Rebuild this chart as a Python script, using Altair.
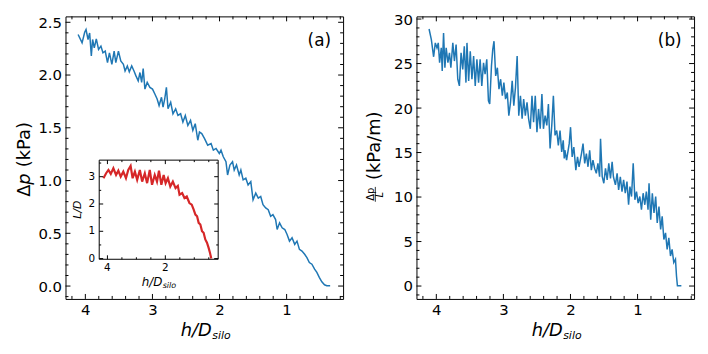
import altair as alt
import pandas as pd

# ---------------- data ----------------
# panel (a): pressure drop vs h/D_silo
a_h = [4.108, 4.049, 4.010, 3.990, 3.960, 3.936, 3.911, 3.892, 3.867, 3.837,
       3.803, 3.768, 3.738, 3.704, 3.670, 3.641, 3.605, 3.571, 3.546, 3.507,
       3.472, 3.433, 3.408, 3.374, 3.345, 3.309, 3.275, 3.246, 3.212, 3.186,
       3.161, 3.138, 3.112, 3.078, 3.038, 2.999, 2.964, 2.930, 2.901, 2.865,
       2.842, 2.817, 2.792, 2.768, 2.728, 2.694, 2.654, 2.620, 2.580, 2.546,
       2.510, 2.472, 2.432, 2.398, 2.362, 2.324, 2.299, 2.265, 2.225, 2.200,
       2.176, 2.126, 2.092, 2.052, 2.003, 1.978, 1.944, 1.904, 1.880, 1.845,
       1.806, 1.781, 1.747, 1.707, 1.682, 1.648, 1.608, 1.574, 1.534, 1.500,
       1.460, 1.422, 1.386, 1.352, 1.312, 1.274, 1.238, 1.204, 1.164, 1.141,
       1.105, 1.067, 1.027, 0.993, 0.957, 0.919, 0.879, 0.845, 0.809, 0.771,
       0.731, 0.697, 0.661, 0.623, 0.583, 0.549, 0.513, 0.475, 0.435, 0.401,
       0.351]
a_dp = [2.384, 2.305, 2.406, 2.431, 2.337, 2.399, 2.180, 2.337, 2.258, 2.343,
        2.243, 2.274, 2.211, 2.227, 2.117, 2.211, 2.102, 2.227, 2.117, 2.227,
        2.133, 2.102, 2.039, 2.086, 2.030, 2.086, 2.039, 1.992, 1.945, 2.024,
        1.930, 2.061, 1.867, 1.930, 1.883, 1.867, 1.820, 1.773, 1.711, 1.789,
        1.695, 1.773, 1.883, 1.680, 1.742, 1.633, 1.680, 1.617, 1.633, 1.554,
        1.617, 1.523, 1.570, 1.476, 1.539, 1.382, 1.460, 1.445, 1.400, 1.366,
        1.335, 1.351, 1.288, 1.304, 1.257, 1.288, 1.225, 1.178, 1.053, 1.147,
        1.178, 1.100, 1.147, 1.053, 1.100, 1.006, 1.022, 0.959, 0.990, 0.818,
        0.881, 0.834, 0.849, 0.771, 0.740, 0.724, 0.661, 0.677, 0.630, 0.536,
        0.599, 0.552, 0.536, 0.489, 0.426, 0.458, 0.395, 0.426, 0.348, 0.332,
        0.301, 0.270, 0.223, 0.207, 0.160, 0.129, 0.082, 0.040, 0.012, 0.003,
        0.003]

# panel (b): pressure gradient vs h/D_silo
b_h = [4.108, 4.074, 4.040, 4.015, 3.990, 3.971, 3.951, 3.926, 3.912, 3.892,
       3.872, 3.853, 3.827, 3.804, 3.783, 3.754, 3.730, 3.705, 3.680, 3.656,
       3.631, 3.606, 3.583, 3.558, 3.543, 3.518, 3.494, 3.469, 3.444, 3.420,
       3.395, 3.370, 3.347, 3.322, 3.296, 3.273, 3.248, 3.223, 3.204, 3.178,
       3.159, 3.140, 3.115, 3.090, 3.066, 3.041, 3.016, 2.993, 2.968, 2.942,
       2.919, 2.894, 2.869, 2.845, 2.820, 2.795, 2.771, 2.746, 2.721, 2.698,
       2.673, 2.648, 2.624, 2.599, 2.574, 2.550, 2.525, 2.500, 2.476, 2.451,
       2.426, 2.403, 2.378, 2.353, 2.329, 2.304, 2.279, 2.255, 2.230, 2.205,
       2.181, 2.156, 2.131, 2.108, 2.093, 2.083, 2.058, 2.019, 1.999, 1.975,
       1.950, 1.920, 1.895, 1.872, 1.836, 1.813, 1.788, 1.763, 1.739, 1.714,
       1.689, 1.665, 1.640, 1.615, 1.591, 1.566, 1.552, 1.527, 1.503, 1.478,
       1.453, 1.429, 1.404, 1.379, 1.360, 1.330, 1.305, 1.282, 1.257, 1.232,
       1.208, 1.183, 1.158, 1.134, 1.114, 1.090, 1.065, 1.040, 1.016, 0.991,
       0.966, 0.942, 0.917, 0.892, 0.869, 0.844, 0.829, 0.804, 0.780, 0.755,
       0.730, 0.707, 0.681, 0.656, 0.633, 0.608, 0.583, 0.559, 0.534, 0.509,
       0.485, 0.460, 0.435, 0.420, 0.406, 0.347]
b_grad = [28.88, 27.69, 25.76, 27.32, 26.76, 27.32, 25.09, 26.76, 24.16, 28.43,
          24.53, 26.76, 25.09, 26.20, 24.53, 27.32, 25.28, 27.14, 23.24, 22.49,
          26.20, 24.35, 26.95, 22.86, 27.32, 23.05, 26.39, 23.24, 25.84, 22.49,
          25.47, 22.86, 25.47, 22.49, 25.09, 23.80, 25.47, 20.82, 20.46, 24.72,
          26.58, 27.51, 23.61, 24.53, 22.13, 23.24, 21.38, 22.86, 21.01, 21.75,
          19.15, 20.63, 23.05, 20.27, 22.31, 25.84, 19.15, 21.38, 18.79, 21.01,
          19.15, 20.63, 18.79, 17.67, 21.38, 18.41, 21.38, 17.29, 19.90, 17.67,
          21.57, 17.67, 19.15, 18.04, 20.46, 15.45, 18.04, 21.38, 16.93, 17.48,
          15.81, 17.48, 15.07, 16.37, 14.33, 15.26, 14.14, 16.00, 17.85, 14.51,
          15.62, 13.03, 14.51, 13.40, 14.89, 16.00, 13.78, 14.89, 13.40, 15.26,
          13.03, 14.14, 13.22, 12.66, 13.78, 12.28, 16.56, 12.28, 11.55, 13.22,
          11.92, 13.78, 12.10, 13.95, 12.28, 11.36, 12.66, 10.80, 12.28, 10.61,
          11.92, 10.43, 11.73, 9.13, 11.17, 10.06, 13.78, 9.69, 10.61, 9.32,
          10.06, 8.57, 10.43, 9.13, 10.61, 8.57, 11.55, 7.46, 10.43, 8.21,
          10.06, 7.09, 8.94, 6.35, 7.83, 5.23, 5.98, 4.12, 5.42, 3.37,
          4.12, 2.64, 3.01, 1.15, 0.03, 0.03]

# inset: L/D vs h/D_silo
i_h = [4.137, 4.045, 3.966, 3.884, 3.795, 3.702, 3.623, 3.541, 3.452, 3.360,
       3.281, 3.199, 3.130, 3.051, 2.973, 2.880, 2.801, 2.709, 2.630, 2.538,
       2.459, 2.366, 2.288, 2.219, 2.137, 2.058, 1.990, 1.911, 1.829, 1.740,
       1.647, 1.568, 1.510, 1.418, 1.339, 1.260, 1.168, 1.089, 1.021, 0.962,
       0.904, 0.849, 0.791, 0.733, 0.678, 0.620, 0.562, 0.507, 0.459, 0.414]
i_ld = [2.945, 3.127, 3.247, 3.102, 3.309, 3.065, 3.222, 3.004, 3.185, 2.945,
        3.247, 3.393, 2.945, 3.185, 2.884, 3.247, 2.822, 3.127, 2.764, 3.247,
        2.702, 3.065, 2.822, 3.222, 2.702, 3.065, 2.764, 2.945, 2.640, 2.822,
        2.582, 2.665, 2.338, 2.400, 2.218, 2.276, 2.036, 1.975, 1.793, 1.611,
        1.549, 1.309, 1.247, 1.004, 0.945, 0.702, 0.582, 0.400, 0.218, 0.000]

# axis domains and tick values
A_XDOM = [4.296, 0.158]
A_YDOM = [-0.122, 2.556]
B_YDOM = [-1.448, 30.30]
I_XDOM = [4.284, 0.175]
I_YDOM = [-0.025, 3.607]

X_MAJOR = [4, 3, 2, 1]
X_MINOR = [4.2, 3.8, 3.6, 3.4, 3.2, 2.8, 2.6, 2.4, 2.2, 1.8, 1.6, 1.4, 1.2,
           0.8, 0.6, 0.4, 0.2]
A_Y_MAJOR = [0.0, 0.5, 1.0, 1.5, 2.0, 2.5]
A_Y_MINOR = [-0.1, 0.1, 0.2, 0.3, 0.4, 0.6, 0.7, 0.8, 0.9, 1.1, 1.2, 1.3, 1.4,
             1.6, 1.7, 1.8, 1.9, 2.1, 2.2, 2.3, 2.4]
B_Y_MAJOR = [0, 5, 10, 15, 20, 25, 30]
B_Y_MINOR = [-1, 1, 2, 3, 4, 6, 7, 8, 9, 11, 12, 13, 14, 16, 17, 18, 19,
             21, 22, 23, 24, 26, 27, 28, 29]
I_X_MAJOR = [4, 2]
I_X_MINOR = [3.5, 3, 2.5, 1.5, 1, 0.5]
I_Y_MAJOR = [0, 1, 2, 3]
I_Y_MINOR = [0.5, 1.5, 2.5, 3.5]

# ---------------- layout constants ----------------
W, H = 280, 285
I_XRANGE = [34, 154]
I_YRANGE = [245, 145]
FONT = "DejaVu Sans"
BLUE = "#1f77b4"
RED = "#d62728"


def ticks_x(values, scale, axis, length, y_top, y_bot):
    src = alt.Chart(pd.DataFrame({"v": values}))
    x = alt.X("v:Q", scale=scale, axis=axis)
    bot = src.mark_rule(color="black", strokeWidth=1).encode(
        x=x, y=alt.value(y_bot), y2=alt.value(y_bot - length))
    top = src.mark_rule(color="black", strokeWidth=1).encode(
        x=x, y=alt.value(y_top), y2=alt.value(y_top + length))
    return [bot, top]


def ticks_y(values, scale, axis, length, x_left, x_right):
    src = alt.Chart(pd.DataFrame({"v": values}))
    y = alt.Y("v:Q", scale=scale, axis=axis)
    left = src.mark_rule(color="black", strokeWidth=1).encode(
        y=y, x=alt.value(x_left), x2=alt.value(x_left + length))
    right = src.mark_rule(color="black", strokeWidth=1).encode(
        y=y, x=alt.value(x_right), x2=alt.value(x_right - length))
    return [left, right]


def label(text, x, y, size, italic=False, angle=0, align="center",
          baseline="middle"):
    return alt.Chart(pd.DataFrame({"t": [text]})).mark_text(
        font=FONT, fontSize=size, fontStyle="italic" if italic else "normal",
        angle=angle, align=align, baseline=baseline, color="black"
    ).encode(x=alt.value(x), y=alt.value(y), text="t:N")


xs = alt.Scale(domain=A_XDOM, nice=False, zero=False)
x_axis = alt.Axis(values=X_MAJOR, format="d", title=None)

# ---------------- panel (a) ----------------
ys_a = alt.Scale(domain=A_YDOM, nice=False, zero=False)
ya_axis = alt.Axis(values=A_Y_MAJOR, format=".1f", title=None)
df_a = pd.DataFrame({"h": a_h, "v": a_dp, "i": range(len(a_h))})
line_a = alt.Chart(df_a).mark_line(color=BLUE, strokeWidth=1.5).encode(
    x=alt.X("h:Q", scale=xs, axis=x_axis),
    y=alt.Y("v:Q", scale=ys_a, axis=ya_axis),
    order="i:Q",
)
main_a = alt.layer(
    line_a,
    *ticks_x(X_MAJOR, xs, x_axis, 5, 0, H),
    *ticks_x(X_MINOR, xs, x_axis, 3, 0, H),
    *ticks_y(A_Y_MAJOR, ys_a, ya_axis, 5, 0, W),
    *ticks_y(A_Y_MINOR, ys_a, ya_axis, 3, 0, W),
    label("(a)", 256, 25, 17),
    label("\u0394", -41, 175.8, 18, angle=270),
    label("p", -41, 164, 18, italic=True, angle=270),
    label("(kPa)", -41, 129.4, 18, angle=270),
    label("h/D", 147.5, 322.3, 18, italic=True, align="right", baseline="alphabetic"),
    label("silo", 148, 325, 11, italic=True, align="left", baseline="alphabetic"),
)

# inset
xs_i = alt.Scale(domain=I_XDOM, range=I_XRANGE, nice=False, zero=False)
ys_i = alt.Scale(domain=I_YDOM, range=I_YRANGE, nice=False, zero=False)
frame_i = alt.Chart(pd.DataFrame({"x0": [I_XDOM[0]], "x1": [I_XDOM[1]],
                                  "y0": [I_YDOM[0]], "y1": [I_YDOM[1]]})).mark_rect(
    fill="white", stroke="black", strokeWidth=1).encode(
    x=alt.X("x0:Q", scale=xs_i, axis=None), x2="x1:Q",
    y=alt.Y("y0:Q", scale=ys_i, axis=None), y2="y1:Q")
df_i = pd.DataFrame({"h": i_h, "v": i_ld, "i": range(len(i_h))})
line_i = alt.Chart(df_i).mark_line(color=RED, strokeWidth=2.2).encode(
    x=alt.X("h:Q", scale=xs_i, axis=None),
    y=alt.Y("v:Q", scale=ys_i, axis=None),
    order="i:Q",
)
xlab_i = alt.Chart(pd.DataFrame({"v": I_X_MAJOR})).mark_text(
    font=FONT, fontSize=10.5, baseline="top", color="black").encode(
    x=alt.X("v:Q", scale=xs_i, axis=None), y=alt.value(249), text="v:Q")
ylab_i = alt.Chart(pd.DataFrame({"v": I_Y_MAJOR})).mark_text(
    font=FONT, fontSize=10.5, align="right", baseline="middle", color="black").encode(
    y=alt.Y("v:Q", scale=ys_i, axis=None), x=alt.value(30), text="v:Q")
inset = alt.layer(
    frame_i, line_i,
    *ticks_x(I_X_MAJOR, xs_i, None, 4, I_YRANGE[1], I_YRANGE[0]),
    *ticks_x(I_X_MINOR, xs_i, None, 2, I_YRANGE[1], I_YRANGE[0]),
    *ticks_y(I_Y_MAJOR, ys_i, None, 4, I_XRANGE[0], I_XRANGE[1]),
    *ticks_y(I_Y_MINOR, ys_i, None, 2, I_XRANGE[0], I_XRANGE[1]),
    xlab_i, ylab_i,
    label("L/D", 12.3, 195, 11, italic=True, angle=270),
    label("h/D", 97.7, 271.7, 12, italic=True, align="right", baseline="alphabetic"),
    label("silo", 98, 274, 8, italic=True, align="left", baseline="alphabetic"),
)

panel_a = alt.layer(main_a, inset).resolve_scale(
    x="independent", y="independent").properties(width=W, height=H)

# ---------------- panel (b) ----------------
ys_b = alt.Scale(domain=B_YDOM, nice=False, zero=False)
yb_axis = alt.Axis(values=B_Y_MAJOR, format="d", title=None)
df_b = pd.DataFrame({"h": b_h, "v": b_grad, "i": range(len(b_h))})
line_b = alt.Chart(df_b).mark_line(color=BLUE, strokeWidth=1.5).encode(
    x=alt.X("h:Q", scale=xs, axis=x_axis),
    y=alt.Y("v:Q", scale=ys_b, axis=yb_axis),
    order="i:Q",
)
bar_b = alt.Chart(pd.DataFrame({"k": [0]})).mark_rule(
    color="black", strokeWidth=0.8).encode(
    x=alt.value(-41.5), y=alt.value(172), y2=alt.value(187))
panel_b = alt.layer(
    line_b,
    *ticks_x(X_MAJOR, xs, x_axis, 5, 0, H),
    *ticks_x(X_MINOR, xs, x_axis, 3, 0, H),
    *ticks_y(B_Y_MAJOR, ys_b, yb_axis, 5, 0, W),
    *ticks_y(B_Y_MINOR, ys_b, yb_axis, 3, 0, W),
    label("(b)", 255.5, 25, 17),
    label("(kPa/m)", -41.5, 130.5, 18, angle=270),
    label("\u0394p", -46, 179.5, 10, angle=270),
    bar_b,
    label("L", -37, 180, 10, italic=True, angle=270),
    label("h/D", 147.5, 322.3, 18, italic=True, align="right", baseline="alphabetic"),
    label("silo", 148, 325, 11, italic=True, align="left", baseline="alphabetic"),
).properties(width=W, height=H)

chart = alt.hconcat(panel_a, panel_b, spacing=21).properties(
    padding={"left": 7, "top": 2, "right": 5, "bottom": 0},
    background="white",
).configure_view(stroke="black", strokeWidth=1).configure_axis(
    labelFont=FONT, labelFontSize=15, labelColor="black", ticks=False,
    domain=False, grid=False, labelPadding=4,
)

chart.save("out.html", embed_options={"renderer": "svg", "actions": False})
